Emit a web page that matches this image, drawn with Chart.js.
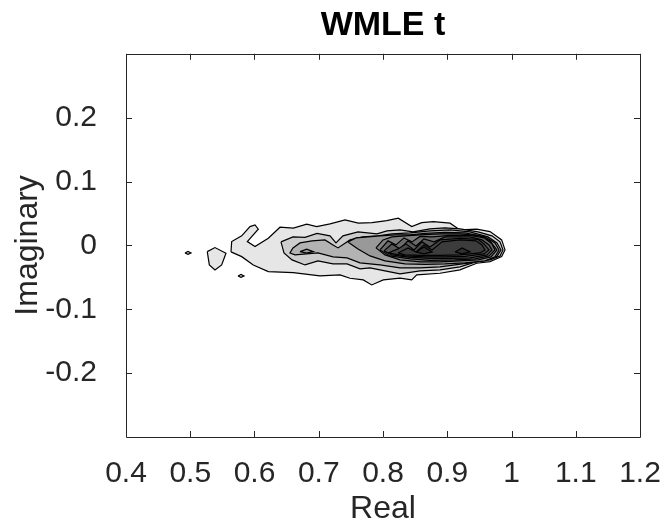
<!DOCTYPE html>
<html>
<head>
<meta charset="utf-8">
<script src="https://cdn.jsdelivr.net/npm/chart.js@4.4.1/dist/chart.umd.min.js"></script>
<style>
  html, body { margin: 0; padding: 0; background: #fff; }
  #wrap { width: 661px; height: 528px; }
</style>
</head>
<body>
<div id="wrap"><canvas id="contourChart" width="661" height="528"></canvas></div>
<script>
// axis ticks
const xTickValues = [0.4, 0.5, 0.6, 0.7, 0.8, 0.9, 1.0, 1.1, 1.2];
const yTickValues = [-0.2, -0.1, 0, 0.1, 0.2];

// contour level fills (light -> dark)
const levelColors = ["#e6e6e6", "#cdcdcd", "#b3b3b3", "#999999", "#808080", "#6a6a6a", "#585858", "#484848", "#3c3c3c", "#303030"];

// contour loops, [real, imag]
const level1 = [[0.5634,-0.0102],[0.5645,0.0060],[0.5801,0.0149],[0.5930,0.0295],[0.6008,0.0321],[0.6059,0.0254],[0.5888,0.0060],[0.6008,-0.0019],[0.6215,0.0113],[0.6397,0.0285],[0.6604,0.0270],[0.6813,0.0332],[0.6968,0.0295],[0.7176,0.0337],[0.7409,0.0400],[0.7616,0.0348],[0.7829,0.0357],[0.8058,0.0389],[0.8238,0.0426],[0.8447,0.0295],[0.8602,0.0357],[0.8783,0.0373],[0.9043,0.0348],[0.9198,0.0243],[0.9458,0.0254],[0.9665,0.0216],[0.9847,0.0086],[0.9899,-0.0071],[0.9847,-0.0176],[0.9665,-0.0254],[0.9458,-0.0279],[0.9198,-0.0384],[0.8887,-0.0436],[0.8525,-0.0462],[0.8447,-0.0541],[0.8265,-0.0514],[0.8005,-0.0541],[0.7824,-0.0619],[0.7693,-0.0541],[0.7486,-0.0514],[0.7331,-0.0462],[0.7019,-0.0478],[0.6604,-0.0426],[0.6215,-0.0411],[0.5981,-0.0306],[0.5801,-0.0176]];
const level1Blob = [[0.5265,-0.0097],[0.5385,-0.0034],[0.5556,-0.0122],[0.5489,-0.0306],[0.5385,-0.0384],[0.5297,-0.0306]];
const level1DotA = [[0.4918,-0.0118],[0.4965,-0.0094],[0.5012,-0.0118],[0.4965,-0.0141]];
const level1DotB = [[0.5743,-0.0478],[0.5790,-0.0454],[0.5837,-0.0478],[0.5790,-0.0501]];
const level2 = [[0.6412,0.0055],[0.6599,0.0133],[0.6786,0.0125],[0.6973,0.0188],[0.7175,0.0149],[0.7268,0.0039],[0.7377,0.0149],[0.7611,0.0212],[0.7907,0.0180],[0.8062,0.0227],[0.8265,0.0243],[0.8467,0.0212],[0.8732,0.0259],[0.8965,0.0274],[0.9198,0.0259],[0.9479,0.0212],[0.9696,0.0149],[0.9821,0.0055],[0.9868,-0.0071],[0.9821,-0.0165],[0.9665,-0.0227],[0.9447,-0.0259],[0.9198,-0.0337],[0.8887,-0.0384],[0.8576,-0.0400],[0.8265,-0.0447],[0.8031,-0.0400],[0.7798,-0.0353],[0.7642,-0.0368],[0.7440,-0.0290],[0.7222,-0.0290],[0.6988,-0.0243],[0.6786,-0.0306],[0.6584,-0.0227],[0.6459,-0.0118]];
const level3 = [[0.6599,-0.0039],[0.6708,0.0039],[0.6895,0.0071],[0.7097,0.0086],[0.7222,0.0008],[0.7300,-0.0039],[0.7487,0.0086],[0.7689,0.0133],[0.7922,0.0149],[0.8140,0.0180],[0.8420,0.0196],[0.8732,0.0227],[0.9043,0.0243],[0.9354,0.0212],[0.9634,0.0133],[0.9774,0.0039],[0.9837,-0.0071],[0.9774,-0.0172],[0.9619,-0.0227],[0.9354,-0.0274],[0.9121,-0.0306],[0.8887,-0.0337],[0.8576,-0.0353],[0.8265,-0.0353],[0.7953,-0.0306],[0.7642,-0.0274],[0.7440,-0.0196],[0.7222,-0.0180],[0.6988,-0.0118],[0.6630,-0.0149],[0.6552,-0.0118]];
const level4 = [[0.7455,0.0055],[0.7580,0.0118],[0.7766,0.0133],[0.7953,0.0149],[0.8187,0.0165],[0.8420,0.0165],[0.8654,0.0188],[0.8965,0.0204],[0.9276,0.0196],[0.9588,0.0133],[0.9743,0.0039],[0.9806,-0.0071],[0.9743,-0.0180],[0.9588,-0.0243],[0.9276,-0.0274],[0.8965,-0.0290],[0.8654,-0.0298],[0.8343,-0.0290],[0.8031,-0.0243],[0.7798,-0.0165],[0.7611,-0.0055]];
const level4Diamond = [[0.6708,-0.0097],[0.6812,-0.0060],[0.6915,-0.0097],[0.6812,-0.0122]];
const level5 = [[0.7891,-0.0039],[0.8000,0.0086],[0.8140,0.0133],[0.8342,0.0149],[0.8576,0.0165],[0.8887,0.0180],[0.9198,0.0180],[0.9510,0.0149],[0.9665,0.0071],[0.9774,-0.0071],[0.9681,-0.0180],[0.9479,-0.0227],[0.9198,-0.0243],[0.8887,-0.0259],[0.8576,-0.0259],[0.8265,-0.0227],[0.8031,-0.0149]];
const level6 = [[0.7953,-0.0071],[0.8078,0.0071],[0.8202,0.0008],[0.8327,0.0118],[0.8451,0.0055],[0.8576,0.0141],[0.8763,0.0133],[0.9043,0.0157],[0.9354,0.0157],[0.9572,0.0118],[0.9696,0.0024],[0.9743,-0.0071],[0.9650,-0.0165],[0.9432,-0.0212],[0.9121,-0.0227],[0.8732,-0.0235],[0.8420,-0.0212],[0.8109,-0.0165]];
const level7 = [[0.8016,-0.0086],[0.8140,0.0024],[0.8265,-0.0055],[0.8389,0.0071],[0.8514,-0.0008],[0.8638,0.0102],[0.8794,0.0055],[0.8965,0.0133],[0.9354,0.0133],[0.9541,0.0086],[0.9650,0.0008],[0.9696,-0.0071],[0.9619,-0.0149],[0.9354,-0.0196],[0.9043,-0.0204],[0.8732,-0.0204],[0.8420,-0.0188],[0.8140,-0.0149]];
const level8 = [[0.8078,-0.0118],[0.8234,-0.0055],[0.8358,0.0024],[0.8483,-0.0071],[0.8607,0.0055],[0.8732,-0.0024],[0.8887,0.0086],[0.9198,0.0110],[0.9479,0.0094],[0.9572,0.0024],[0.9650,-0.0071],[0.9572,-0.0133],[0.9276,-0.0172],[0.8965,-0.0180],[0.8654,-0.0180],[0.8342,-0.0165]];
const level9 = [[0.8234,-0.0118],[0.8389,-0.0039],[0.8514,-0.0102],[0.8638,0.0008],[0.8763,-0.0071],[0.8918,0.0055],[0.9198,0.0086],[0.9447,0.0071],[0.9541,0.0008],[0.9588,-0.0071],[0.9510,-0.0118],[0.9198,-0.0149],[0.8887,-0.0157],[0.8576,-0.0157],[0.8342,-0.0149]];
const level10PeakA = [[0.8514,-0.0102],[0.8638,-0.0024],[0.8763,-0.0102],[0.8638,-0.0133]];
const level10PeakB = [[0.9121,-0.0102],[0.9230,-0.0039],[0.9354,-0.0102],[0.9230,-0.0133]];

const contours = [
    [0, level1], [0, level1Blob], [0, level1DotA], [0, level1DotB],
    [1, level2], [2, level3], [3, level4], [3, level4Diamond],
    [4, level5], [5, level6], [6, level7], [7, level8], [8, level9],
    [9, level10PeakA], [9, level10PeakB],
];

const fontFamily = "'Liberation Sans', Arial, Helvetica, sans-serif";
const axisColor = "#262626";

let datasets = contours.map(([lvl, pts], i) => {
    let data = pts.map((p) => ({ x: p[0], y: p[1] }));
    data.push({ x: pts[0][0], y: pts[0][1] });
    return {
        data: data,
        showLine: true,
        fill: "shape",
        backgroundColor: levelColors[lvl],
        borderColor: "#000",
        borderWidth: 1.2,
        pointRadius: 0,
        tension: 0,
        order: 100 - i,
    };
});

// box round the plot with inward tick marks on all four sides
const framePlugin = {
    id: "frame",
    afterDatasetsDraw(chart) {
        let { ctx, chartArea: a, scales } = chart;
        ctx.save();
        ctx.strokeStyle = axisColor;
        ctx.lineWidth = 1;
        ctx.beginPath();
        ctx.rect(Math.round(a.left) + 0.5, Math.round(a.top) + 0.5, Math.round(a.right - a.left), Math.round(a.bottom - a.top));
        xTickValues.forEach((v) => {
            let px = Math.round(scales.x.getPixelForValue(v)) + 0.5;
            ctx.moveTo(px, a.bottom); ctx.lineTo(px, a.bottom - 6);
            ctx.moveTo(px, a.top); ctx.lineTo(px, a.top + 6);
        });
        yTickValues.forEach((v) => {
            let py = Math.round(scales.y.getPixelForValue(v)) + 0.5;
            ctx.moveTo(a.left, py); ctx.lineTo(a.left + 6, py);
            ctx.moveTo(a.right, py); ctx.lineTo(a.right - 6, py);
        });
        ctx.stroke();
        ctx.restore();
    },
};

function fmt(v) {
    return String(Math.round(v * 10) / 10);
}

new Chart(document.getElementById("contourChart").getContext("2d"), {
    type: "scatter",
    data: { datasets: datasets },
    plugins: [framePlugin],
    options: {
        responsive: false,
        animation: false,
        layout: { padding: 0 },
        plugins: {
            legend: { display: false },
            tooltip: { enabled: false },
            title: {
                display: true,
                fullSize: false,
                text: "WMLE t",
                color: "#000",
                font: { family: fontFamily, size: 34, weight: "bold" },
                padding: { top: 5, bottom: 8 },
            },
        },
        scales: {
            x: {
                type: "linear",
                min: 0.4,
                max: 1.2,
                afterBuildTicks: (scale) => { scale.ticks = xTickValues.map((v) => ({ value: v })); },
                afterFit: (scale) => {
                    scale.height = 91;
                    scale.paddingLeft = 0;
                    scale.paddingRight = 21;
                },
                grid: { display: false },
                border: { display: false },
                ticks: {
                    color: axisColor,
                    padding: 11,
                    maxRotation: 0,
                    font: { family: fontFamily, size: 30 },
                    callback: (v) => fmt(v),
                },
                title: {
                    display: true,
                    text: "Real",
                    color: axisColor,
                    font: { family: fontFamily, size: 32 },
                    padding: { top: 0, bottom: 0 },
                },
            },
            y: {
                type: "linear",
                min: -0.3,
                max: 0.3,
                afterBuildTicks: (scale) => { scale.ticks = yTickValues.map((v) => ({ value: v })); },
                afterFit: (scale) => { scale.width = 126; },
                grid: { display: false },
                border: { display: false },
                ticks: {
                    color: axisColor,
                    padding: 21,
                    font: { family: fontFamily, size: 30 },
                    callback: (v) => fmt(v),
                },
                title: {
                    display: true,
                    text: "Imaginary",
                    color: axisColor,
                    font: { family: fontFamily, size: 32 },
                    padding: { top: 9, bottom: 0 },
                },
            },
        },
    },
});
</script>
</body>
</html>
